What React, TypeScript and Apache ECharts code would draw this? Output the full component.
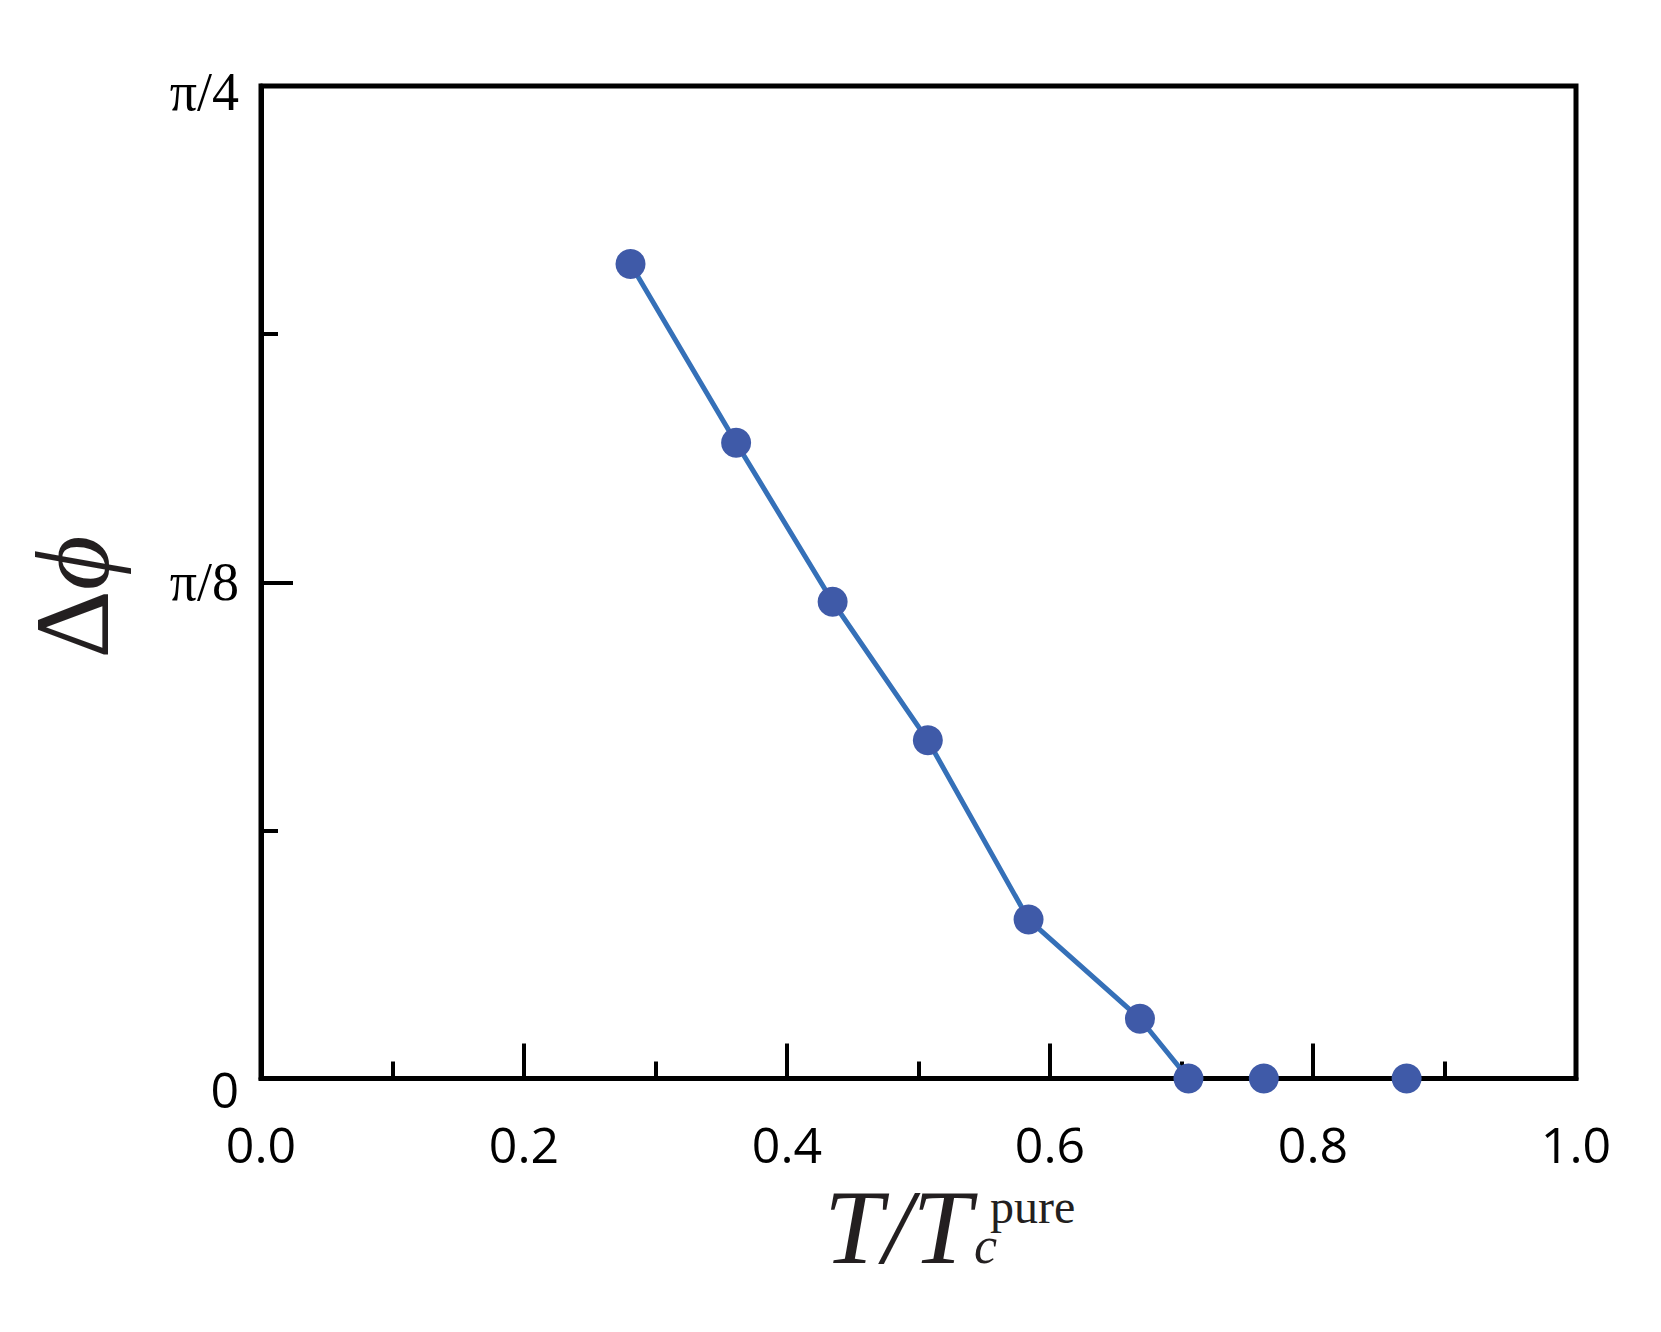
import React, { useEffect, useRef } from "react";
import * as echarts from "echarts";

// T / T_c^pure
const tRatio = [0.281, 0.3613, 0.4347, 0.5071, 0.5837, 0.6684, 0.7053, 0.7626, 0.8712];
// Δϕ in radians
const deltaPhi = [0.6446, 0.5031, 0.3773, 0.2676, 0.1258, 0.0473, 0, 0, 0];
// number of leading points joined by the line
const linkedCount = 7;
const xTickLabels = ["0.0", "0.2", "0.4", "0.6", "0.8", "1.0"];
const yTickLabels = ["0", "π/8", "π/4"];

export default function App() {
  const ref = useRef<HTMLDivElement>(null);
  useEffect(() => {
    if (!ref.current) return;
    const chart = echarts.init(ref.current, null, { renderer: "svg" });
    const pts = tRatio.map((x, i) => [x, deltaPhi[i]]);
    const linePts = pts.slice(0, linkedCount);
    const serif = "'Liberation Serif', 'Times New Roman', serif";
    const sans = "'Open Sans', 'Noto Sans', sans-serif";
    const axisW = 5;
    chart.setOption({
      animation: false,
      backgroundColor: "#fff",
      grid: {
        left: 261,
        right: 85,
        top: 86,
        bottom: 253.5,
        show: true,
        borderColor: "#000",
        borderWidth: axisW,
        containLabel: false,
      },
      xAxis: {
        type: "value",
        min: 0,
        max: 1,
        interval: 0.2,
        axisLine: { show: true, onZero: false, lineStyle: { color: "#000", width: axisW } },
        axisTick: { show: true, inside: true, length: 35, lineStyle: { color: "#000", width: 4 } },
        minorTick: { show: true, splitNumber: 2, length: 17, lineStyle: { color: "#000", width: 4 } },
        splitLine: { show: false },
        axisLabel: {
          margin: 40,
          color: "#000",
          fontFamily: sans,
          fontSize: 50,
          formatter: (v: number) => xTickLabels[Math.round(v / 0.2)] ?? "",
        },
      },
      yAxis: {
        type: "value",
        min: 0,
        max: Math.PI / 4,
        interval: Math.PI / 8,
        axisLine: { show: true, onZero: false, lineStyle: { color: "#000", width: axisW } },
        axisTick: { show: true, inside: true, length: 32, lineStyle: { color: "#000", width: 4 } },
        minorTick: { show: true, splitNumber: 2, length: 17, lineStyle: { color: "#000", width: 4 } },
        splitLine: { show: false },
        axisLabel: {
          margin: 22,
          color: "#000",
          formatter: (v: number) => {
            const i = Math.round(v / (Math.PI / 8));
            const t = yTickLabels[i] ?? "";
            if (i === 0) return "{s|" + t + "}";
            if (i === 2) return "{r2|" + t + "}";
            return "{r|" + t + "}";
          },
          rich: {
            s: { fontFamily: sans, fontSize: 50, color: "#000", padding: [20, 0, 0, 0] },
            r: { fontFamily: serif, fontSize: 54, color: "#000" },
            r2: { fontFamily: serif, fontSize: 54, color: "#000", padding: [12, 0, 0, 0] },
          },
        },
      },
      graphic: [
        {
          type: "text",
          x: 72,
          y: 597,
          rotation: Math.PI / 2,
          style: {
            text: "{a|Δ}{b|ϕ}",
            align: "center",
            verticalAlign: "middle",
            rich: {
              a: { fontFamily: serif, fontSize: 106, fill: "#231f20" },
              b: { fontFamily: serif, fontSize: 106, fontStyle: "italic", fill: "#231f20" },
            },
          },
        },
        {
          type: "text",
          x: 824,
          y: 1227,
          style: {
            text: "T/T",
            fontFamily: serif,
            fontStyle: "italic",
            fontSize: 106,
            fill: "#231f20",
            align: "left",
            verticalAlign: "middle",
          },
        },
        {
          type: "text",
          x: 974,
          y: 1245,
          style: {
            text: "c",
            fontFamily: serif,
            fontStyle: "italic",
            fontSize: 52,
            fill: "#231f20",
            align: "left",
            verticalAlign: "middle",
          },
        },
        {
          type: "text",
          x: 990,
          y: 1206,
          style: {
            text: "pure",
            fontFamily: serif,
            fontSize: 48,
            fill: "#231f20",
            align: "left",
            verticalAlign: "middle",
          },
        },
      ],
      series: [
        {
          type: "line",
          data: linePts,
          showSymbol: false,
          clip: false,
          lineStyle: { color: "#3570b8", width: 5 },
          z: 3,
        },
        {
          type: "scatter",
          data: pts,
          symbol: "circle",
          symbolSize: 30,
          clip: false,
          itemStyle: { color: "#3f5aa8", opacity: 1 },
          z: 4,
        },
      ],
    });
    return () => chart.dispose();
  }, []);
  return (
    <div
      ref={ref}
      style={{ position: "absolute", left: 0, top: 0, width: 1661, height: 1332 }}
    />
  );
}
